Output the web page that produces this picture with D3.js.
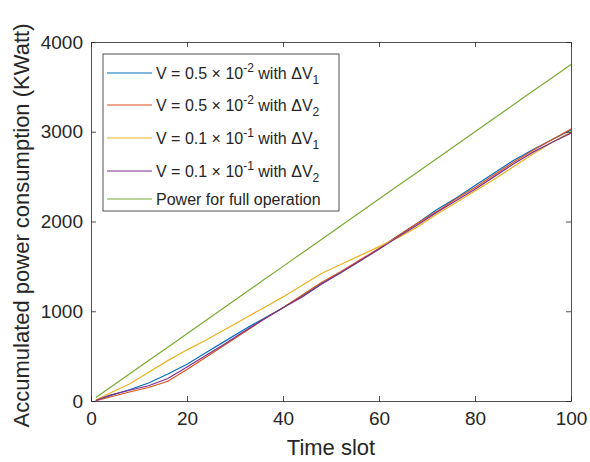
<!DOCTYPE html>
<html>
<head>
<meta charset="utf-8">
<script src="https://cdn.jsdelivr.net/npm/d3@7"></script>
<style>
  body { margin: 0; background: #fff; }
  text { font-family: "Liberation Sans", Arial, sans-serif; fill: #262626; }
</style>
</head>
<body>
<div id="chart"></div>
<script>
// Accumulated power consumption vs time slot

const slots = [1, 4, 8, 12, 16, 20, 24, 28, 32, 36, 40, 44, 48, 52, 56, 60, 64, 68, 72, 76, 80, 84, 88, 92, 96, 100];

const blueV1 = [5, 60, 125, 200, 300, 410, 540, 670, 800, 920, 1040, 1170, 1310, 1430, 1560, 1700, 1840, 1980, 2130, 2260, 2400, 2540, 2680, 2800, 2910, 3020];
const redV2 = [3, 45, 100, 150, 220, 350, 490, 630, 770, 910, 1040, 1180, 1320, 1440, 1570, 1700, 1840, 1980, 2110, 2250, 2380, 2520, 2660, 2790, 2910, 3030];
const yellowV1 = [10, 90, 190, 320, 450, 570, 680, 800, 920, 1040, 1160, 1290, 1420, 1520, 1620, 1720, 1820, 1940, 2080, 2210, 2340, 2470, 2610, 2750, 2880, 3000];
const purpleV2 = [5, 65, 120, 170, 250, 380, 510, 640, 780, 910, 1040, 1160, 1300, 1430, 1560, 1690, 1830, 1960, 2100, 2230, 2360, 2500, 2640, 2770, 2880, 2985];
const fullOp = [38, 150, 300, 450, 600, 750, 900, 1050, 1200, 1350, 1500, 1650, 1800, 1950, 2100, 2250, 2400, 2550, 2700, 2850, 3000, 3150, 3300, 3450, 3600, 3750];

const xTicks = [0, 20, 40, 60, 80, 100];
const yTicks = [0, 1000, 2000, 3000, 4000];

// legend label pieces: [text, kind] kind = n (normal), sup, sub
const legendLabels = [
    [["V = 0.5 \u00d7 10", "n"], ["-2", "sup"], [" with \u0394V", "n"], ["1", "sub"]],
    [["V = 0.5 \u00d7 10", "n"], ["-2", "sup"], [" with \u0394V", "n"], ["2", "sub"]],
    [["V = 0.1 \u00d7 10", "n"], ["-1", "sup"], [" with \u0394V", "n"], ["1", "sub"]],
    [["V = 0.1 \u00d7 10", "n"], ["-1", "sup"], [" with \u0394V", "n"], ["2", "sub"]],
    [["Power for full operation", "n"]]
];

const series = [blueV1, redV2, yellowV1, purpleV2, fullOp];
const colors = ["#0072BD", "#D95319", "#EDB120", "#7E2F8E", "#77AC30"];

const width = 590,
      height = 462,
      margin = ({ top: 42, right: 19, bottom: 61, left: 91 });

let svg = d3.select("#chart")
    .append("svg")
    .attr("width", width)
    .attr("height", height);

let x = d3.scaleLinear()
    .domain([0, 100])
    .range([margin.left, width - margin.right]);

let y = d3.scaleLinear()
    .domain([0, 4000])
    .range([height - margin.bottom, margin.top]);

// lines first, axes box on top
let line = d3.line()
    .x((d, i) => x(slots[i]))
    .y(d => y(d));

svg.selectAll(".series")
    .data(series)
    .join("path")
    .attr("class", "series")
    .attr("fill", "none")
    .attr("stroke", (d, i) => colors[i])
    .attr("stroke-width", 1.2)
    .attr("d", d => line(d));

const tickLen = 5;

// bottom / left axes with inward ticks
let xAxis = svg.append("g")
    .attr("transform", `translate(0,${y(0)})`)
    .call(d3.axisBottom(x).tickValues(xTicks).tickSizeInner(-tickLen).tickSizeOuter(0).tickPadding(14));

let yAxis = svg.append("g")
    .attr("transform", `translate(${x(0)},0)`)
    .call(d3.axisLeft(y).tickValues(yTicks).tickFormat(d3.format("d")).tickSizeInner(-tickLen).tickSizeOuter(0).tickPadding(8));

// top / right mirrored ticks
svg.append("g")
    .attr("transform", `translate(0,${y(4000)})`)
    .call(d3.axisTop(x).tickValues(xTicks).tickSizeInner(-tickLen).tickSizeOuter(0).tickFormat(""));

svg.append("g")
    .attr("transform", `translate(${x(100)},0)`)
    .call(d3.axisRight(y).tickValues(yTicks).tickSizeInner(-tickLen).tickSizeOuter(0).tickFormat(""));

svg.selectAll(".domain, .tick line")
    .attr("stroke", "#262626")
    .attr("stroke-width", 0.8);

svg.selectAll(".tick text")
    .attr("font-size", 19)
    .attr("font-family", "Liberation Sans, Arial, sans-serif")
    .attr("fill", "#262626");

xAxis.selectAll(".tick text").attr("dy", "0.5em");

// axis titles
svg.append("text")
    .attr("x", (x(0) + x(100)) / 2)
    .attr("y", 455)
    .attr("text-anchor", "middle")
    .attr("font-size", 22)
    .text("Time slot");

svg.append("text")
    .attr("transform", `translate(29,${(y(0) + y(4000)) / 2 + 4}) rotate(-90)`)
    .attr("text-anchor", "middle")
    .attr("font-size", 22)
    .text("Accumulated power consumption (KWatt)");

// legend
const legX = 103, legY = 54, legW = 236, legH = 157;
const rowY = [73, 105, 138, 171, 199];

let legend = svg.append("g");

legend.append("rect")
    .attr("x", legX)
    .attr("y", legY)
    .attr("width", legW)
    .attr("height", legH)
    .attr("fill", "#fff")
    .attr("stroke", "#262626")
    .attr("stroke-width", 0.8);

legendLabels.forEach((parts, i) => {
    legend.append("line")
        .attr("x1", 107)
        .attr("x2", 152)
        .attr("y1", rowY[i])
        .attr("y2", rowY[i])
        .attr("stroke", colors[i])
        .attr("stroke-width", 1.2);

    let t = legend.append("text")
        .attr("x", 156)
        .attr("y", rowY[i] + 6)
        .attr("font-size", 16);

    let shift = 0;
    parts.forEach(([txt, kind]) => {
        let target = kind == "sup" ? -7 : kind == "sub" ? 5 : 0;
        t.append("tspan")
            .attr("dy", target - shift)
            .attr("font-size", kind == "n" ? 16 : 12)
            .text(txt);
        shift = target;
    });
});
</script>
</body>
</html>
